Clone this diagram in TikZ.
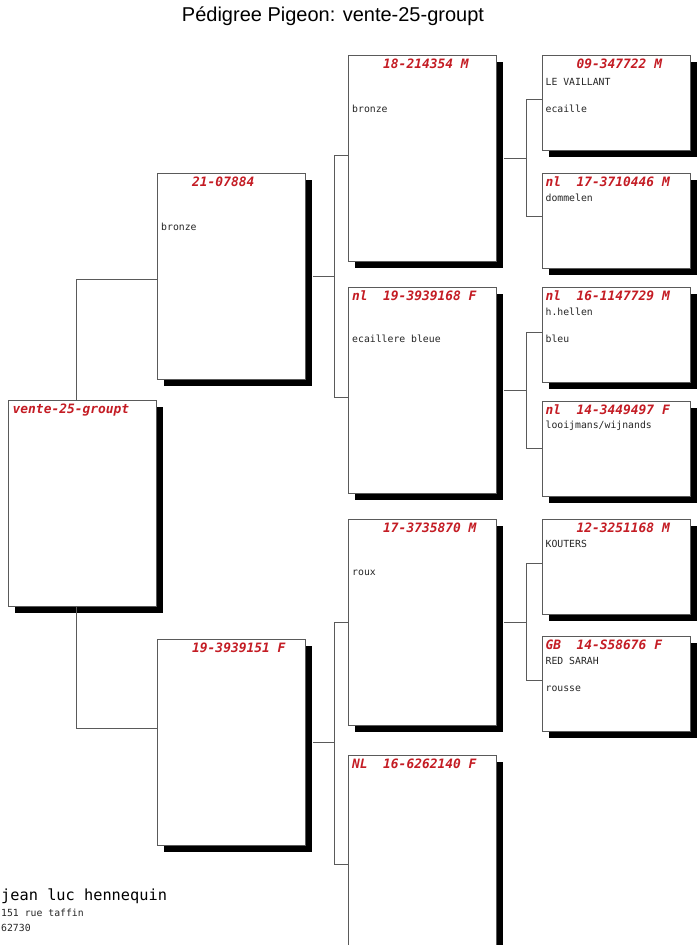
\documentclass[tikz,border=0pt]{standalone}
\usepackage{fontspec}
\setmonofont{DejaVu Sans Mono}
\newfontfamily\titlefont{Liberation Sans}
\usetikzlibrary{positioning, shadows}

\definecolor{ringred}{RGB}{196,28,36}
\definecolor{framegray}{RGB}{90,90,90}

% country field of the ring number, four characters wide
\newcommand\ringno[2]{\makebox[31pt][l]{#1}#2}

\begin{document}
\begin{tikzpicture}[
    x=1pt, y=-1pt,
    node distance=26pt and 45pt,
    bird/.style={
        rectangle,
        draw=framegray,
        line width=0.9pt,
        fill=white,
        inner sep=0pt,
        anchor=north west,
        general shadow={fill=black, shadow xshift=7pt, shadow yshift=-7pt}
    },
    big/.style={
        bird,
        minimum width=148pt,
        minimum height=206pt
    },
    small/.style={
        bird,
        minimum width=148pt,
        minimum height=95pt
    },
    ring/.style={
        anchor=base west,
        inner sep=0pt,
        text=ringred,
        font=\ttfamily\bfseries\itshape\fontsize{12.9}{14}\selectfont
    },
    info/.style={
        anchor=base west,
        inner sep=0pt,
        text=black!85,
        font=\ttfamily\fontsize{9.8}{11}\selectfont
    },
    link/.style={
        draw=framegray,
        line width=0.9pt
    }
]

    \useasboundingbox (0,0) rectangle (698,945);
    \clip (0,0) rectangle (698,945);

    % Title
    \node[anchor=base, inner sep=0pt, font=\titlefont\fontsize{20}{24}\selectfont] (title) at (333,21) {Pédigree Pigeon: vente-25-groupt};

    % Pigeon
    \node[big] (box0) at (8,400) {};
    \node[ring] (hd0) at ([xshift=4.5pt, yshift=-13.5pt]box0.north west) {vente-25-groupt};

    % Parents
    \node[big] (box1) at (157,173) {};
    \node[ring] (hd1) at ([xshift=4pt, yshift=-13.5pt]box1.north west) {\ringno{}{21-07884}};
    \node[info] (col1) at ([xshift=4pt, yshift=-57pt]box1.north west) {bronze};

    \node[big] (box2) at (157,639) {};
    \node[ring] (hd2) at ([xshift=4pt, yshift=-13.5pt]box2.north west) {\ringno{}{19-3939151 F}};

    \draw[link] ([xshift=-6.5pt]box0.north) |- ([yshift=-3pt]box1.west);
    \draw[link] ([xshift=-6.5pt]box0.south) |- ([yshift=14pt]box2.west);

    % Grandparents
    \node[big] (box3) at (348,55) {};
    \node[ring] (hd3) at ([xshift=4pt, yshift=-13.5pt]box3.north west) {\ringno{}{18-214354 M}};
    \node[info] (col3) at ([xshift=4pt, yshift=-57pt]box3.north west) {bronze};

    \node[big, below=25pt of box3] (box4) {};
    \node[ring] (hd4) at ([xshift=4pt, yshift=-13.5pt]box4.north west) {\ringno{nl}{19-3939168 F}};
    \node[info] (col4) at ([xshift=4pt, yshift=-56pt]box4.north west) {ecaillere bleue};

    \node[big, below=25pt of box4] (box9) {};
    \node[ring] (hd9) at ([xshift=4pt, yshift=-13.5pt]box9.north west) {\ringno{}{17-3735870 M}};
    \node[info] (col9) at ([xshift=4pt, yshift=-57pt]box9.north west) {roux};

    \node[big, below=29pt of box9] (box10) {};
    \node[ring] (hd10) at ([xshift=4pt, yshift=-13.5pt]box10.north west) {\ringno{NL}{16-6262140 F}};

    \coordinate (jx3) at ([xshift=-14pt]box3.west);
    \draw[link] ([xshift=7pt]box1.east) -- (jx3 |- box1.east);
    \draw[link] ([yshift=3pt]box3.west) -- ++(-14,0) |- ([yshift=-7.5pt]box4.west);

    \coordinate (jx9) at ([xshift=-14pt]box9.west);
    \draw[link] ([xshift=7pt]box2.east) -- (jx9 |- box2.east);
    \draw[link] (box9.west) -- ++(-14,0) |- ([yshift=-6pt]box10.west);

    % Great-grandparents
    \node[small, below right=0pt and 45pt of box3.north east] (box5) {};
    \node[ring] (hd5) at ([xshift=3.5pt, yshift=-13.5pt]box5.north west) {\ringno{}{09-347722 M}};
    \node[info] (nm5) at ([xshift=3.5pt, yshift=-30pt]box5.north west) {LE VAILLANT};
    \node[info] (col5) at ([xshift=3.5pt, yshift=-57pt]box5.north west) {ecaille};

    \node[small, below=22pt of box5] (box6) {};
    \node[ring] (hd6) at ([xshift=3.5pt, yshift=-13.5pt]box6.north west) {\ringno{nl}{17-3710446 M}};
    \node[info] (nm6) at ([xshift=3.5pt, yshift=-29pt]box6.north west) {dommelen};

    \node[small, below right=0pt and 45pt of box4.north east] (box7) {};
    \node[ring] (hd7) at ([xshift=3.5pt, yshift=-13.5pt]box7.north west) {\ringno{nl}{16-1147729 M}};
    \node[info] (nm7) at ([xshift=3.5pt, yshift=-29pt]box7.north west) {h.hellen};
    \node[info] (col7) at ([xshift=3.5pt, yshift=-56pt]box7.north west) {bleu};

    \node[small, below=18pt of box7] (box8) {};
    \node[ring] (hd8) at ([xshift=3.5pt, yshift=-13.5pt]box8.north west) {\ringno{nl}{14-3449497 F}};
    \node[info] (nm8) at ([xshift=3.5pt, yshift=-28pt]box8.north west) {looijmans/wijnands};

    \node[small, below right=0pt and 45pt of box9.north east] (box11) {};
    \node[ring] (hd11) at ([xshift=3.5pt, yshift=-13.5pt]box11.north west) {\ringno{}{12-3251168 M}};
    \node[info] (nm11) at ([xshift=3.5pt, yshift=-29pt]box11.north west) {KOUTERS};

    \node[small, below=21pt of box11] (box12) {};
    \node[ring] (hd12) at ([xshift=3.5pt, yshift=-13.5pt]box12.north west) {\ringno{GB}{14-S58676 F}};
    \node[info] (nm12) at ([xshift=3.5pt, yshift=-29pt]box12.north west) {RED SARAH};
    \node[info] (col12) at ([xshift=3.5pt, yshift=-56pt]box12.north west) {rousse};

    \coordinate (jx5) at ([xshift=-15pt]box5.west);
    \draw[link] ([xshift=7pt]box3.east) -- (jx5 |- box3.east);
    \draw[link] ([yshift=3.5pt]box5.west) -- ++(-15,0) |- ([yshift=4pt]box6.west);

    \coordinate (jx7) at ([xshift=-15pt]box7.west);
    \draw[link] ([xshift=7pt]box4.east) -- (jx7 |- box4.east);
    \draw[link] ([yshift=2.5pt]box7.west) -- ++(-15,0) |- (box8.west);

    \coordinate (jx11) at ([xshift=-15pt]box11.west);
    \draw[link] ([xshift=7pt]box9.east) -- (jx11 |- box9.east);
    \draw[link] ([yshift=3pt]box11.west) -- ++(-15,0) |- ([yshift=3.5pt]box12.west);

    % Owner
    \node[anchor=base west, inner sep=0pt, font=\ttfamily\fontsize{15.3}{18}\selectfont] (owner) at (1,900) {jean luc hennequin};
    \node[info] (street) at (1,916) {151 rue taffin};
    \node[info] (town) at (1,931) {62730};

\end{tikzpicture}
\end{document}
